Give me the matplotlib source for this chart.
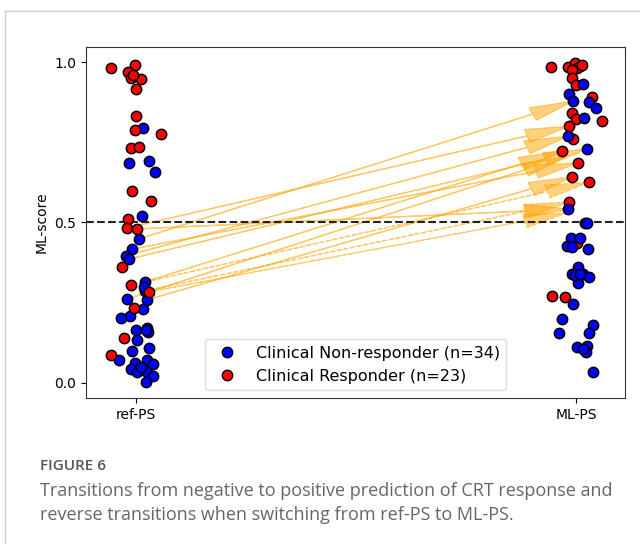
import matplotlib
matplotlib.use("Agg")
import matplotlib.pyplot as plt
from matplotlib.lines import Line2D
import numpy as np

# ---- data ----
categories = ["ref-PS", "ML-PS"]
legend_labels = ["Clinical Non-responder (n=34)", "Clinical Responder (n=23)"]

# ref-PS column: responders (red)
ref_resp_jit = [-0.057, -0.002, -0.018, -0.011, 0.011, 0.0, 0.0, -0.002, 0.057, -0.011, 0.007,
                -0.009, 0.034, -0.018, -0.020, 0.002, -0.032, -0.011, 0.030, -0.005, -0.027, -0.057, -0.007]
ref_resp_y = [0.981, 0.990, 0.969, 0.950, 0.947, 0.916, 0.832, 0.788, 0.776, 0.732, 0.735,
              0.598, 0.567, 0.511, 0.483, 0.480, 0.361, 0.305, 0.284, 0.234, 0.140, 0.087, 0.960]
# ref-PS column: non-responders (blue)
ref_non_jit = [0.016, -0.016, 0.030, 0.043, 0.014, 0.007, -0.009, -0.023, -0.016, 0.020, 0.020,
               -0.020, 0.025, 0.016, -0.014, -0.034, 0.0, 0.025, 0.027, 0.002, -0.009, 0.030,
               -0.039, 0.025, -0.002, 0.039, -0.011, 0.002, 0.025, 0.039, 0.023, 0.023, 0.011, 0.018]
ref_non_y = [0.794, 0.685, 0.692, 0.657, 0.520, 0.449, 0.417, 0.396, 0.386, 0.315, 0.287,
             0.262, 0.259, 0.230, 0.209, 0.203, 0.165, 0.171, 0.159, 0.134, 0.100, 0.109,
             0.072, 0.072, 0.062, 0.059, 0.044, 0.034, 0.034, 0.022, 0.003, 0.165, 0.050, 0.300]

# ML-PS column: responders (red)
ml_resp_jit = [-0.057, -0.018, -0.002, 0.009, 0.002, -0.009, -0.009, 0.0, 0.036, -0.009, 0.0,
               0.059, -0.016, -0.007, -0.032, 0.005, -0.009, 0.030, -0.016, 0.002, -0.055, -0.025, 0.014]
ml_resp_y = [0.984, 0.984, 0.997, 0.988, 0.981, 0.975, 0.950, 0.928, 0.891, 0.841, 0.822,
             0.816, 0.800, 0.760, 0.723, 0.685, 0.642, 0.626, 0.564, 0.436, 0.271, 0.268, 0.990]
# ML-PS column: non-responders (blue)
ml_non_jit = [0.016, -0.016, -0.007, 0.030, 0.045, 0.018, -0.018, 0.025, -0.018, 0.020, 0.025,
              -0.011, 0.009, -0.020, -0.009, 0.027, 0.005, -0.009, 0.016, 0.030, 0.002, 0.005,
              -0.007, -0.032, 0.039, -0.039, 0.030, 0.002, 0.025, 0.023, 0.039, -0.002, 0.009, 0.016]
ml_non_y = [0.931, 0.900, 0.878, 0.875, 0.857, 0.826, 0.769, 0.729, 0.542, 0.498, 0.498,
            0.452, 0.452, 0.427, 0.424, 0.417, 0.361, 0.340, 0.340, 0.330, 0.330, 0.312,
            0.246, 0.200, 0.180, 0.156, 0.156, 0.112, 0.115, 0.097, 0.034, 0.335, 0.340, 0.105]

# transitions (ref-PS -> ML-PS)
tr_start_jit = [0.007, -0.020, -0.023, -0.016, -0.009, -0.020, 0.020, 0.025, -0.011, 0.020, 0.002, 0.030]
tr_start_y = [0.449, 0.483, 0.396, 0.386, 0.417, 0.262, 0.315, 0.259, 0.305, 0.287, 0.480, 0.284]
tr_end_jit = [-0.007, -0.016, -0.018, 0.025, 0.005, -0.025, -0.032, -0.009, 0.030, -0.016, -0.018, -0.020]
tr_end_y = [0.878, 0.800, 0.769, 0.729, 0.685, 0.705, 0.723, 0.642, 0.626, 0.564, 0.542, 0.530]
tr_dashed = [False, False, False, False, False, False, False, False, True, True, False, True]

caption_title = "FIGURE 6"
caption_text = ("Transitions from negative to positive prediction of CRT response and\n"
                "reverse transitions when switching from ref-PS to ML-PS.")

# ---- figure ----
fig = plt.figure(figsize=(6.4, 5.44), dpi=100)
ax = fig.add_axes([86/640, 1-398/544, (625-86)/640, (398-47)/544])

BLUE = "#0000ff"
RED = "#ff0000"

for x0j, y0, x1j, y1, d in zip(tr_start_jit, tr_start_y, tr_end_jit, tr_end_y, tr_dashed):
    x0 = 0 + x0j
    x1 = 1 + x1j
    ax.arrow(x0, y0, x1 - x0, y1 - y0, width=0.001, head_width=0.042, head_length=0.1,
             length_includes_head=True, color="orange", alpha=0.5, lw=0.9,
             ls="--" if d else "-", zorder=2)

ax.axhline(0.5, color="#222222", ls="--", lw=1.5, zorder=2.5)

ms = 55
ax.scatter(np.array(ref_non_jit) + 0, ref_non_y, s=ms, c=BLUE, edgecolors="black", linewidths=1.1, zorder=3)
ax.scatter(np.array(ref_resp_jit) + 0, ref_resp_y, s=ms, c=RED, edgecolors="black", linewidths=1.1, zorder=3)
ax.scatter(np.array(ml_resp_jit) + 1, ml_resp_y, s=ms, c=RED, edgecolors="black", linewidths=1.1, zorder=3)
ax.scatter(np.array(ml_non_jit) + 1, ml_non_y, s=ms, c=BLUE, edgecolors="black", linewidths=1.1, zorder=3)

ax.set_xlim(-0.114, 1.111)
ax.set_ylim(-0.047, 1.047)
ax.set_xticks([0, 1])
ax.set_xticklabels(categories, fontsize=10)
ax.set_yticks([0.0, 0.5, 1.0])
ax.set_yticklabels(["0.0", "0.5", "1.0"], fontsize=10)
ax.set_ylabel("ML-score", fontsize=10)
for s in ax.spines.values():
    s.set_color("#333333")

handles = [Line2D([], [], marker="o", ls="", markersize=7.5, markerfacecolor=BLUE, markeredgecolor="black"),
           Line2D([], [], marker="o", ls="", markersize=7.5, markerfacecolor=RED, markeredgecolor="black")]
ax.legend(handles, legend_labels, loc="lower center", fontsize=11.5, framealpha=1, edgecolor="#dddddd")

# card border
fig.add_artist(Line2D([5/640, 1], [1-11/544, 1-11/544], transform=fig.transFigure, color="#cccccc", lw=1))
fig.add_artist(Line2D([5/640, 5/640], [0, 1-11/544], transform=fig.transFigure, color="#cccccc", lw=1))

fig.text(40/640, 1-466/544, caption_title, fontsize=11, color="#555555", family="Open Sans",
         fontweight="semibold", va="center", ha="left")
fig.text(40/640, 1-482/544, caption_text, fontsize=13, color="#666666", family="Open Sans",
         va="top", ha="left", linespacing=1.42)

fig.savefig("out.png", dpi=100)
